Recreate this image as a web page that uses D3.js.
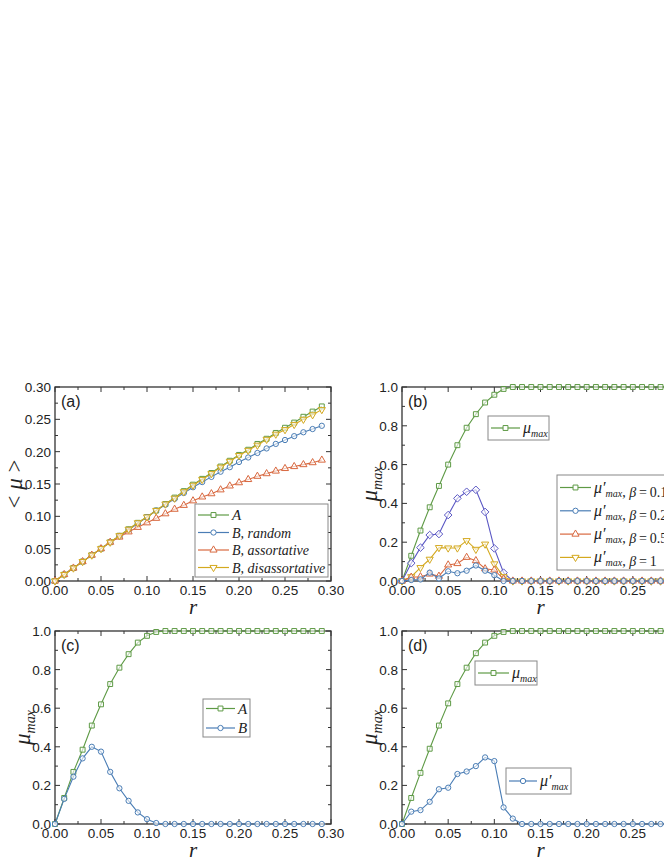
<!DOCTYPE html>
<meta charset="utf-8">
<script src="https://d3js.org/d3.v7.min.js"></script>
<style>
  body { margin: 0; background: #fff; }
  text { fill: #222; }
</style>
<div id="chart"></div>
<script>

// x values (r)
var rVals = [0,0.01,0.02,0.03,0.04,0.05,0.06,0.07,0.08,0.09,0.10,0.11,0.12,0.13,0.14,
             0.15,0.16,0.17,0.18,0.19,0.20,0.21,0.22,0.23,0.24,0.25,0.26,0.27,0.28,0.29];

// panel (a): <mu>
var aA          = [0,0.010,0.020,0.030,0.040,0.050,0.060,0.070,0.080,0.090,0.099,0.109,0.119,0.129,0.139,0.149,0.158,0.167,0.177,0.186,0.195,0.203,0.212,0.220,0.229,0.237,0.245,0.254,0.262,0.270];
var aRandom     = [0,0.010,0.020,0.030,0.040,0.050,0.060,0.069,0.079,0.089,0.099,0.109,0.118,0.127,0.136,0.145,0.153,0.161,0.169,0.176,0.184,0.191,0.198,0.205,0.212,0.218,0.224,0.230,0.235,0.240];
var aAssort     = [0,0.010,0.020,0.030,0.040,0.050,0.060,0.068,0.076,0.083,0.090,0.097,0.104,0.111,0.117,0.124,0.130,0.135,0.141,0.147,0.152,0.157,0.162,0.166,0.170,0.174,0.177,0.180,0.183,0.187];
var aDisassort  = [0,0.010,0.020,0.030,0.040,0.050,0.060,0.070,0.080,0.090,0.099,0.109,0.119,0.128,0.138,0.148,0.157,0.166,0.176,0.185,0.194,0.202,0.210,0.219,0.227,0.234,0.242,0.250,0.257,0.265];

// panel (b): mu_max and mu'_max for several beta
var bMax    = [0,0.13,0.26,0.38,0.49,0.60,0.70,0.79,0.86,0.92,0.96,0.99,1,1,1,1,1,1,1,1,1,1,1,1,1,1,1,1,1,1];
var bBeta01 = [0,0.092,0.172,0.237,0.242,0.34,0.426,0.46,0.47,0.356,0.168,0.043,0,0,0,0,0,0,0,0,0,0,0,0,0,0,0,0,0,0];
var bBeta02 = [0,0.005,0.008,0.043,0.013,0.05,0.04,0.053,0.08,0.053,0.03,0,0,0,0,0,0,0,0,0,0,0,0,0,0,0,0,0,0,0];
var bBeta05 = [0,0.02,0.022,0.036,0.025,0.083,0.09,0.122,0.105,0.063,0.057,0.01,0,0,0,0,0,0,0,0,0,0,0,0,0,0,0,0,0,0];
var bBeta1  = [0,0.022,0.069,0.112,0.172,0.17,0.17,0.208,0.163,0.19,0.088,0.022,0,0,0,0,0,0,0,0,0,0,0,0,0,0,0,0,0,0];

// panel (c): A and B
var cA = [0,0.135,0.27,0.385,0.51,0.62,0.725,0.81,0.88,0.94,0.975,0.995,1,1,1,1,1,1,1,1,1,1,1,1,1,1,1,1,1,1];
var cB = [0,0.13,0.245,0.34,0.40,0.375,0.27,0.185,0.12,0.06,0.025,0.005,0,0,0,0,0,0,0,0,0,0,0,0,0,0,0,0,0,0];

// panel (d): mu_max and mu'_max
var dMax   = [0,0.135,0.265,0.39,0.51,0.625,0.725,0.81,0.885,0.94,0.975,0.995,1,1,1,1,1,1,1,1,1,1,1,1,1,1,1,1,1,1];
var dPrime = [0,0.064,0.072,0.115,0.18,0.188,0.259,0.272,0.30,0.345,0.326,0.086,0.028,0,0,0,0,0,0,0,0,0,0,0,0,0,0,0,0,0];

var xTicks = [0,0.05,0.10,0.15,0.20,0.25,0.30];
var yTicksA = [0,0.05,0.10,0.15,0.20,0.25,0.30];
var yTicksM = [0,0.2,0.4,0.6,0.8,1.0];

var colors = {green: "#5e9a45", blue: "#4a7db5", red: "#d8683f", yellow: "#d4a91f", purple: "#5a57c4"};

var svg = d3.select("#chart").append("svg")
    .attr("width", 664).attr("height", 860);

var serifFont = "'Liberation Serif', 'Times New Roman', serif";
var sansFont = "'Liberation Sans', Arial, sans-serif";

// marker path generator
function markerPath(shape) {
  if (shape == "square") return d3.symbol().type(d3.symbolSquare).size(24)();
  if (shape == "circle") return d3.symbol().type(d3.symbolCircle).size(22)();
  if (shape == "up") return d3.symbol().type(d3.symbolTriangle).size(22)();
  if (shape == "down") return d3.symbol().type(d3.symbolTriangle).size(22)();
  if (shape == "diamond") return "M0,-3.8L3.8,0L0,3.8L-3.8,0Z";
}
function markerTransform(shape, x, y) {
  var t = "translate(" + x + "," + y + ")";
  if (shape == "down") t += " rotate(180)";
  return t;
}

function drawPanel(cfg) {
  var x = d3.scaleLinear().domain([0, 0.30]).range([cfg.left, cfg.right]);
  var y = d3.scaleLinear().domain(cfg.yDomain).range([cfg.bottom, cfg.top]);
  var g = svg.append("g");

  // minor + major ticks, all four sides, pointing inside
  var xMinor = d3.range(0, 0.3001, 0.025);
  var yStep = (cfg.yTicks[1] - cfg.yTicks[0]) / 2;
  var yMinor = d3.range(cfg.yDomain[0], cfg.yDomain[1] + 1e-6, yStep);

  var tickG = g.append("g").attr("stroke", "#333").attr("stroke-width", 1);
  xMinor.forEach(function(v, i) {
    var len = (i % 2 == 0) ? 5 : 3;
    tickG.append("line").attr("x1", x(v)).attr("x2", x(v)).attr("y1", cfg.bottom).attr("y2", cfg.bottom - len);
    tickG.append("line").attr("x1", x(v)).attr("x2", x(v)).attr("y1", cfg.top).attr("y2", cfg.top + len);
  });
  yMinor.forEach(function(v, i) {
    var len = (i % 2 == 0) ? 5 : 3;
    tickG.append("line").attr("x1", cfg.left).attr("x2", cfg.left + len).attr("y1", y(v)).attr("y2", y(v));
    tickG.append("line").attr("x1", cfg.right).attr("x2", cfg.right - len).attr("y1", y(v)).attr("y2", y(v));
  });

  // frame
  g.append("rect")
      .attr("x", cfg.left).attr("y", cfg.top)
      .attr("width", cfg.right - cfg.left).attr("height", cfg.bottom - cfg.top)
      .attr("fill", "none").attr("stroke", "#333").attr("stroke-width", 1.3);

  // tick labels
  xTicks.forEach(function(v) {
    g.append("text")
        .attr("x", x(v)).attr("y", cfg.bottom + 14)
        .attr("text-anchor", "middle")
        .style("font-family", sansFont).style("font-size", "13.5px")
        .text(d3.format(".2f")(v));
  });
  cfg.yTicks.forEach(function(v) {
    g.append("text")
        .attr("x", cfg.left - 4).attr("y", y(v) + 5)
        .attr("text-anchor", "end")
        .style("font-family", sansFont).style("font-size", "13.5px")
        .text(d3.format(cfg.yFormat)(v));
  });

  // x label
  g.append("text")
      .attr("x", (cfg.left + cfg.right) / 2).attr("y", cfg.bottom + 33)
      .attr("text-anchor", "middle")
      .style("font-family", serifFont).style("font-style", "italic").style("font-size", "21px")
      .text("r");

  // y label
  var yl = g.append("text")
      .attr("transform", "translate(" + cfg.yLabelX + "," + ((cfg.top + cfg.bottom) / 2) + ") rotate(-90)")
      .attr("text-anchor", "middle")
      .style("font-family", serifFont).style("font-size", "23px");
  if (cfg.yLabel == "mean") {
    yl.append("tspan").text("< ");
    yl.append("tspan").style("font-style", "italic").text("\u03BC");
    yl.append("tspan").text(" >");
  } else {
    yl.append("tspan").style("font-style", "italic").text("\u03BC");
    yl.append("tspan").attr("dy", 5).style("font-style", "italic").style("font-size", "14px").text("max");
  }

  // panel tag
  g.append("text")
      .attr("x", cfg.left + 6).attr("y", cfg.top + 20)
      .style("font-family", sansFont).style("font-size", "16px")
      .text(cfg.tag);

  // series
  var line = d3.line()
      .x(function(d) { return x(d[0]); })
      .y(function(d) { return y(d[1]); });

  cfg.series.forEach(function(s) {
    var pts = rVals.map(function(r, i) { return [r, s.values[i]]; });
    g.append("path")
        .datum(pts)
        .attr("d", line)
        .attr("fill", "none").attr("stroke", s.color).attr("stroke-width", 1.1);
    g.selectAll(null)
        .data(pts)
        .enter()
        .append("path")
          .attr("d", markerPath(s.shape))
          .attr("transform", function(d) { return markerTransform(s.shape, x(d[0]), y(d[1])); })
          .attr("fill", "#fff").attr("fill-opacity", 0.6)
          .attr("stroke", s.color).attr("stroke-width", 1);
  });

  // legends
  cfg.legends.forEach(function(L) {
    var lg = svg.append("g");
    lg.append("rect")
        .attr("x", L.x).attr("y", L.y).attr("width", L.w).attr("height", L.h)
        .attr("fill", "#fff").attr("stroke", "#888").attr("stroke-width", 1);
    L.items.forEach(function(it, i) {
      var yy = L.y + L.firstY + i * L.step;
      lg.append("line")
          .attr("x1", L.x + 3).attr("x2", L.x + 3 + L.lineLen)
          .attr("y1", yy).attr("y2", yy)
          .attr("stroke", it.color).attr("stroke-width", 1.2);
      lg.append("path")
          .attr("d", markerPath(it.shape))
          .attr("transform", markerTransform(it.shape, L.x + 3 + L.lineLen / 2, yy))
          .attr("fill", "#fff").attr("stroke", it.color).attr("stroke-width", 1);
      var t = lg.append("text")
          .attr("x", L.x + 6 + L.lineLen).attr("y", yy + 5)
          .style("font-family", serifFont).style("font-size", "14px");
      it.label(t);
    });
  });
}

// helpers for legend labels
function plain(str) {
  return function(t) { t.style("font-style", "italic").style("font-size", "15px").text(str); };
}
function muMax(prime) {
  return function(t) {
    t.append("tspan").style("font-style", "italic").style("font-size", "16px").text("\u03BC" + (prime ? "\u2032" : ""));
    t.append("tspan").attr("dy", 4).style("font-style", "italic").style("font-size", "10px").text("max");
    t.append("tspan").attr("dy", -4).text("");
  };
}
function muBeta(b) {
  return function(t) {
    muMax(true)(t);
    t.append("tspan").text(", ");
    t.append("tspan").style("font-style", "italic").text("\u03B2");
    t.append("tspan").text("\u2009=\u2009" + b);
  };
}
function bLabel(rest) {
  return function(t) {
    t.style("font-style", "italic").text("B, " + rest);
  };
}

drawPanel({
  tag: "(a)", left: 55, right: 331, top: 387, bottom: 581,
  yDomain: [0, 0.30], yTicks: yTicksA, yFormat: ".2f", yLabel: "mean", yLabelX: 22,
  series: [
    {values: aA, color: colors.green, shape: "square"},
    {values: aRandom, color: colors.blue, shape: "circle"},
    {values: aAssort, color: colors.red, shape: "up"},
    {values: aDisassort, color: colors.yellow, shape: "down"}
  ],
  legends: [
    {x: 195, y: 504, w: 133, h: 73, firstY: 11, step: 17.5, lineLen: 31,
     items: [
       {color: colors.green, shape: "square", label: plain("A")},
       {color: colors.blue, shape: "circle", label: bLabel("random")},
       {color: colors.red, shape: "up", label: bLabel("assortative")},
       {color: colors.yellow, shape: "down", label: bLabel("disassortative")}
     ]}
  ]
});

drawPanel({
  tag: "(b)", left: 402, right: 679, top: 387, bottom: 581,
  yDomain: [0, 1.0], yTicks: yTicksM, yFormat: ".1f", yLabel: "max", yLabelX: 377,
  series: [
    {values: bMax, color: colors.green, shape: "square"},
    {values: bBeta01, color: colors.purple, shape: "diamond"},
    {values: bBeta1, color: colors.yellow, shape: "down"},
    {values: bBeta05, color: colors.red, shape: "up"},
    {values: bBeta02, color: colors.blue, shape: "circle"}
  ],
  legends: [
    {x: 488, y: 416, w: 61, h: 24, firstY: 12, step: 0, lineLen: 29,
     items: [{color: colors.green, shape: "square", label: muMax(false)}]},
    {x: 557, y: 475, w: 120, h: 95, firstY: 12.5, step: 23.3, lineLen: 31,
     items: [
       {color: colors.green, shape: "square", label: muBeta("0.1")},
       {color: colors.blue, shape: "circle", label: muBeta("0.2")},
       {color: colors.red, shape: "up", label: muBeta("0.5")},
       {color: colors.yellow, shape: "down", label: muBeta("1")}
     ]}
  ]
});

drawPanel({
  tag: "(c)", left: 55, right: 331, top: 631, bottom: 824,
  yDomain: [0, 1.0], yTicks: yTicksM, yFormat: ".1f", yLabel: "max", yLabelX: 30,
  series: [
    {values: cA, color: colors.green, shape: "square"},
    {values: cB, color: colors.blue, shape: "circle"}
  ],
  legends: [
    {x: 203, y: 699, w: 47, h: 38, firstY: 9.5, step: 19.5, lineLen: 29,
     items: [
       {color: colors.green, shape: "square", label: plain("A")},
       {color: colors.blue, shape: "circle", label: plain("B")}
     ]}
  ]
});

drawPanel({
  tag: "(d)", left: 402, right: 679, top: 631, bottom: 824,
  yDomain: [0, 1.0], yTicks: yTicksM, yFormat: ".1f", yLabel: "max", yLabelX: 377,
  series: [
    {values: dMax, color: colors.green, shape: "square"},
    {values: dPrime, color: colors.blue, shape: "circle"}
  ],
  legends: [
    {x: 475, y: 661, w: 62, h: 24, firstY: 12, step: 0, lineLen: 31,
     items: [{color: colors.green, shape: "square", label: muMax(false)}]},
    {x: 506, y: 768, w: 65, h: 26, firstY: 13, step: 0, lineLen: 28,
     items: [{color: colors.blue, shape: "circle", label: muMax(true)}]}
  ]
});

</script>
